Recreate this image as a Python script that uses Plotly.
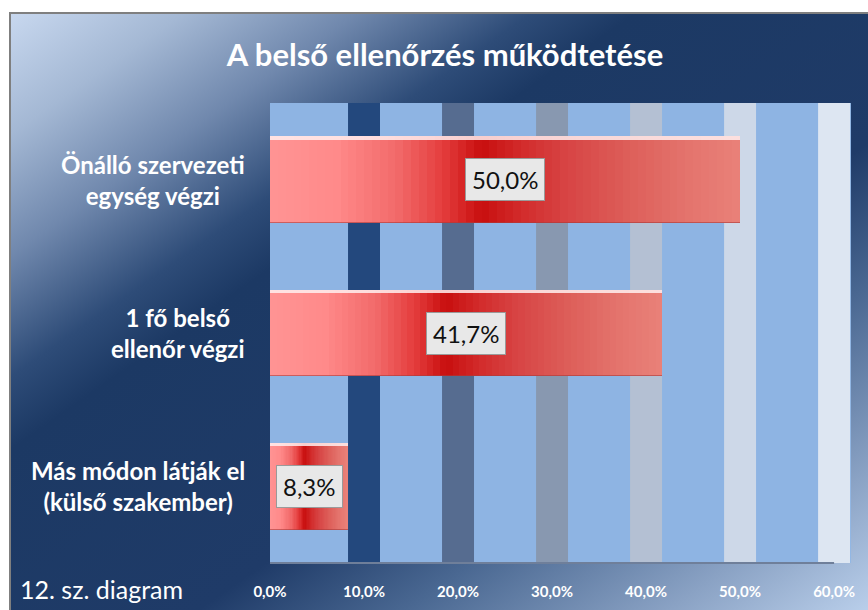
import base64
import plotly.graph_objects as go

# ---------------- data ----------------
categories = ["Más módon látják el<br>(külső szakember)",
              "1 fő belső<br>ellenőr végzi",
              "Önálló szervezeti<br>egység végzi"]
values = [8.3, 41.7, 50.0]
value_labels = ["8,3%", "41,7%", "50,0%"]
tick_vals = [0, 10, 20, 30, 40, 50, 60]
tick_text = ["0,0%", "10,0%", "20,0%", "30,0%", "40,0%", "50,0%", "60,0%"]
title_text = "A belső ellenőrzés működtetése"
footer_text = "12. sz. diagram"

W, H = 868, 610
FONT = "Lato"

# ---------------- helpers ----------------
def hex2rgb(h):
    h = h.lstrip("#")
    return tuple(int(h[i:i + 2], 16) for i in (0, 2, 4))

def interp(stops, f):
    for (f0, c0), (f1, c1) in zip(stops[:-1], stops[1:]):
        if f0 <= f <= f1:
            t = 0 if f1 == f0 else (f - f0) / (f1 - f0)
            a, b = hex2rgb(c0), hex2rgb(c1)
            return "rgb(%d,%d,%d)" % tuple(round(a[k] + (b[k] - a[k]) * t) for k in range(3))
    return stops[-1][1]

bar_stops = [(0.0, "#ff9494"), (0.14, "#ff8a8a"), (0.27, "#f26a6a"),
             (0.37, "#e43c3c"), (0.45, "#c80e0e"), (0.53, "#d22a2a"),
             (0.63, "#d74444"), (0.76, "#dd5e59"), (0.89, "#e4746d"),
             (1.0, "#e98179")]

# ---------------- background (svg gradient) ----------------
bg_stops = [(0.0, "#c8d8ef"), (0.1, "#a4b8d4"), (0.2, "#7088ad"),
            (0.3, "#2e4c78"), (0.36, "#1c3964"), (0.6, "#1f3b68"),
            (0.72, "#4a6892"), (0.87, "#8aa2c4"), (1.0, "#bfd4ef")]
bx0, by0 = 9, 12
bw, bh = 880 - bx0, 620 - by0
stops_svg = "".join('<stop offset="%g" stop-color="%s"/>' % (o, c) for o, c in bg_stops)
svg = ('<svg xmlns="http://www.w3.org/2000/svg" width="%d" height="%d">'
       '<defs><linearGradient id="g" x1="0" y1="0" x2="1" y2="1">%s</linearGradient></defs>'
       '<rect x="1" y="1" width="%d" height="%d" fill="url(#g)" stroke="#7f7f7f" stroke-width="2"/>'
       '</svg>') % (bw, bh, stops_svg, bw - 1, bh - 1)
svg_uri = "data:image/svg+xml;base64," + base64.b64encode(svg.encode()).decode()

# ---------------- figure ----------------
fig = go.Figure()

BAR_W = 0.567
N = 60
for i in range(N):
    f = (i + 0.5) / N
    seg = [v / N * (1.02 if i < N - 1 else 1.0) for v in values]
    fig.add_trace(go.Bar(
        y=categories, x=seg,
        base=[v * i / N for v in values],
        orientation="h", width=BAR_W,
        marker=dict(color=interp(bar_stops, f), line=dict(width=0)),
        showlegend=False, hoverinfo="skip"))

# top highlight of bars
fig.add_trace(go.Bar(
    y=categories, x=values, base=[0] * len(values), orientation="h",
    width=0.022, offset=BAR_W / 2 - 0.022,
    marker=dict(color="rgba(255,240,240,0.85)", line=dict(width=0)),
    showlegend=False, hoverinfo="skip"))
# thin darker bottom edge
fig.add_trace(go.Bar(
    y=categories, x=values, base=[0] * len(values), orientation="h",
    width=0.008, offset=-BAR_W / 2,
    marker=dict(color="rgba(170,60,60,0.6)", line=dict(width=0)),
    showlegend=False, hoverinfo="skip"))

shapes = [dict(type="rect", xref="x domain", yref="y domain", x0=0, x1=1, y0=0, y1=1,
               fillcolor="#8eb4e3", line=dict(width=0), layer="below")]
band_colors = ["#23487d", "#566c90", "#8898b0", "#b4c0d3", "#cdd8e8", "#dde6f2"]
for t, c in zip(tick_vals[1:], band_colors):
    shapes.append(dict(type="rect", xref="x", yref="y domain", x0=t - 1.7, x1=t + 1.7,
                       y0=0, y1=1, fillcolor=c, line=dict(width=0), layer="below"))
shapes.append(dict(type="line", xref="x", yref="y domain", x0=tick_vals[0], x1=tick_vals[-1],
                   y0=0, y1=0, line=dict(color="#6f7f9a", width=2), layer="below"))

annotations = []
for cat, v, lab in zip(categories, values, value_labels):
    annotations.append(dict(x=v / 2, y=cat, xref="x", yref="y", text=lab, showarrow=False,
                            font=dict(family=FONT, size=24, color="#111111"),
                            bgcolor="#e8e8e8", bordercolor="#9a9a9a", borderwidth=1,
                            borderpad=6, xanchor="center", yanchor="middle"))
    annotations.append(dict(x=247 / W, y=cat, xref="paper", yref="y", text="<b>%s</b>" % cat,
                            showarrow=False, align="center", xanchor="right", yanchor="middle",
                            font=dict(family=FONT, size=24, color="white")))
annotations.append(dict(x=18 / W, y=1 - 589 / H, xref="paper", yref="paper", text=footer_text,
                        showarrow=False, xanchor="left", yanchor="middle",
                        font=dict(family=FONT, size=25, color="white")))

fig.update_layout(
    width=W, height=H,
    margin=dict(l=0, r=0, t=0, b=0, pad=0, autoexpand=False),
    paper_bgcolor="white", plot_bgcolor="rgba(0,0,0,0)",
    barmode="overlay", bargap=0,
    title=dict(text="<b>%s</b>" % title_text, x=445 / W, y=1 - 55 / H,
               xanchor="center", yanchor="middle", automargin=False,
               font=dict(family=FONT, size=31, color="white")),
    xaxis=dict(domain=[270 / W, 851 / W], range=[0, 61.8], tickvals=tick_vals,
               ticktext=tick_text, showgrid=False, zeroline=False, showline=False,
               ticks="", ticklabelstandoff=18, automargin=False,
               tickfont=dict(family=FONT, size=15, color="white", weight="bold")),
    yaxis=dict(domain=[1 - 563 / H, 1 - 103 / H], range=[-0.5, 2.5], type="category",
               categoryorder="array", categoryarray=categories, automargin=False,
               showticklabels=False, showgrid=False, zeroline=False, ticks=""),
    shapes=shapes, annotations=annotations,
    images=[dict(source=svg_uri, xref="paper", yref="paper", x=bx0 / W, y=1 - by0 / H,
                 sizex=bw / W, sizey=bh / H, sizing="stretch", xanchor="left",
                 yanchor="top", layer="below")],
)

fig.write_html("out.html", config={"displayModeBar": False},
               post_script="document.body.style.margin='0';")
